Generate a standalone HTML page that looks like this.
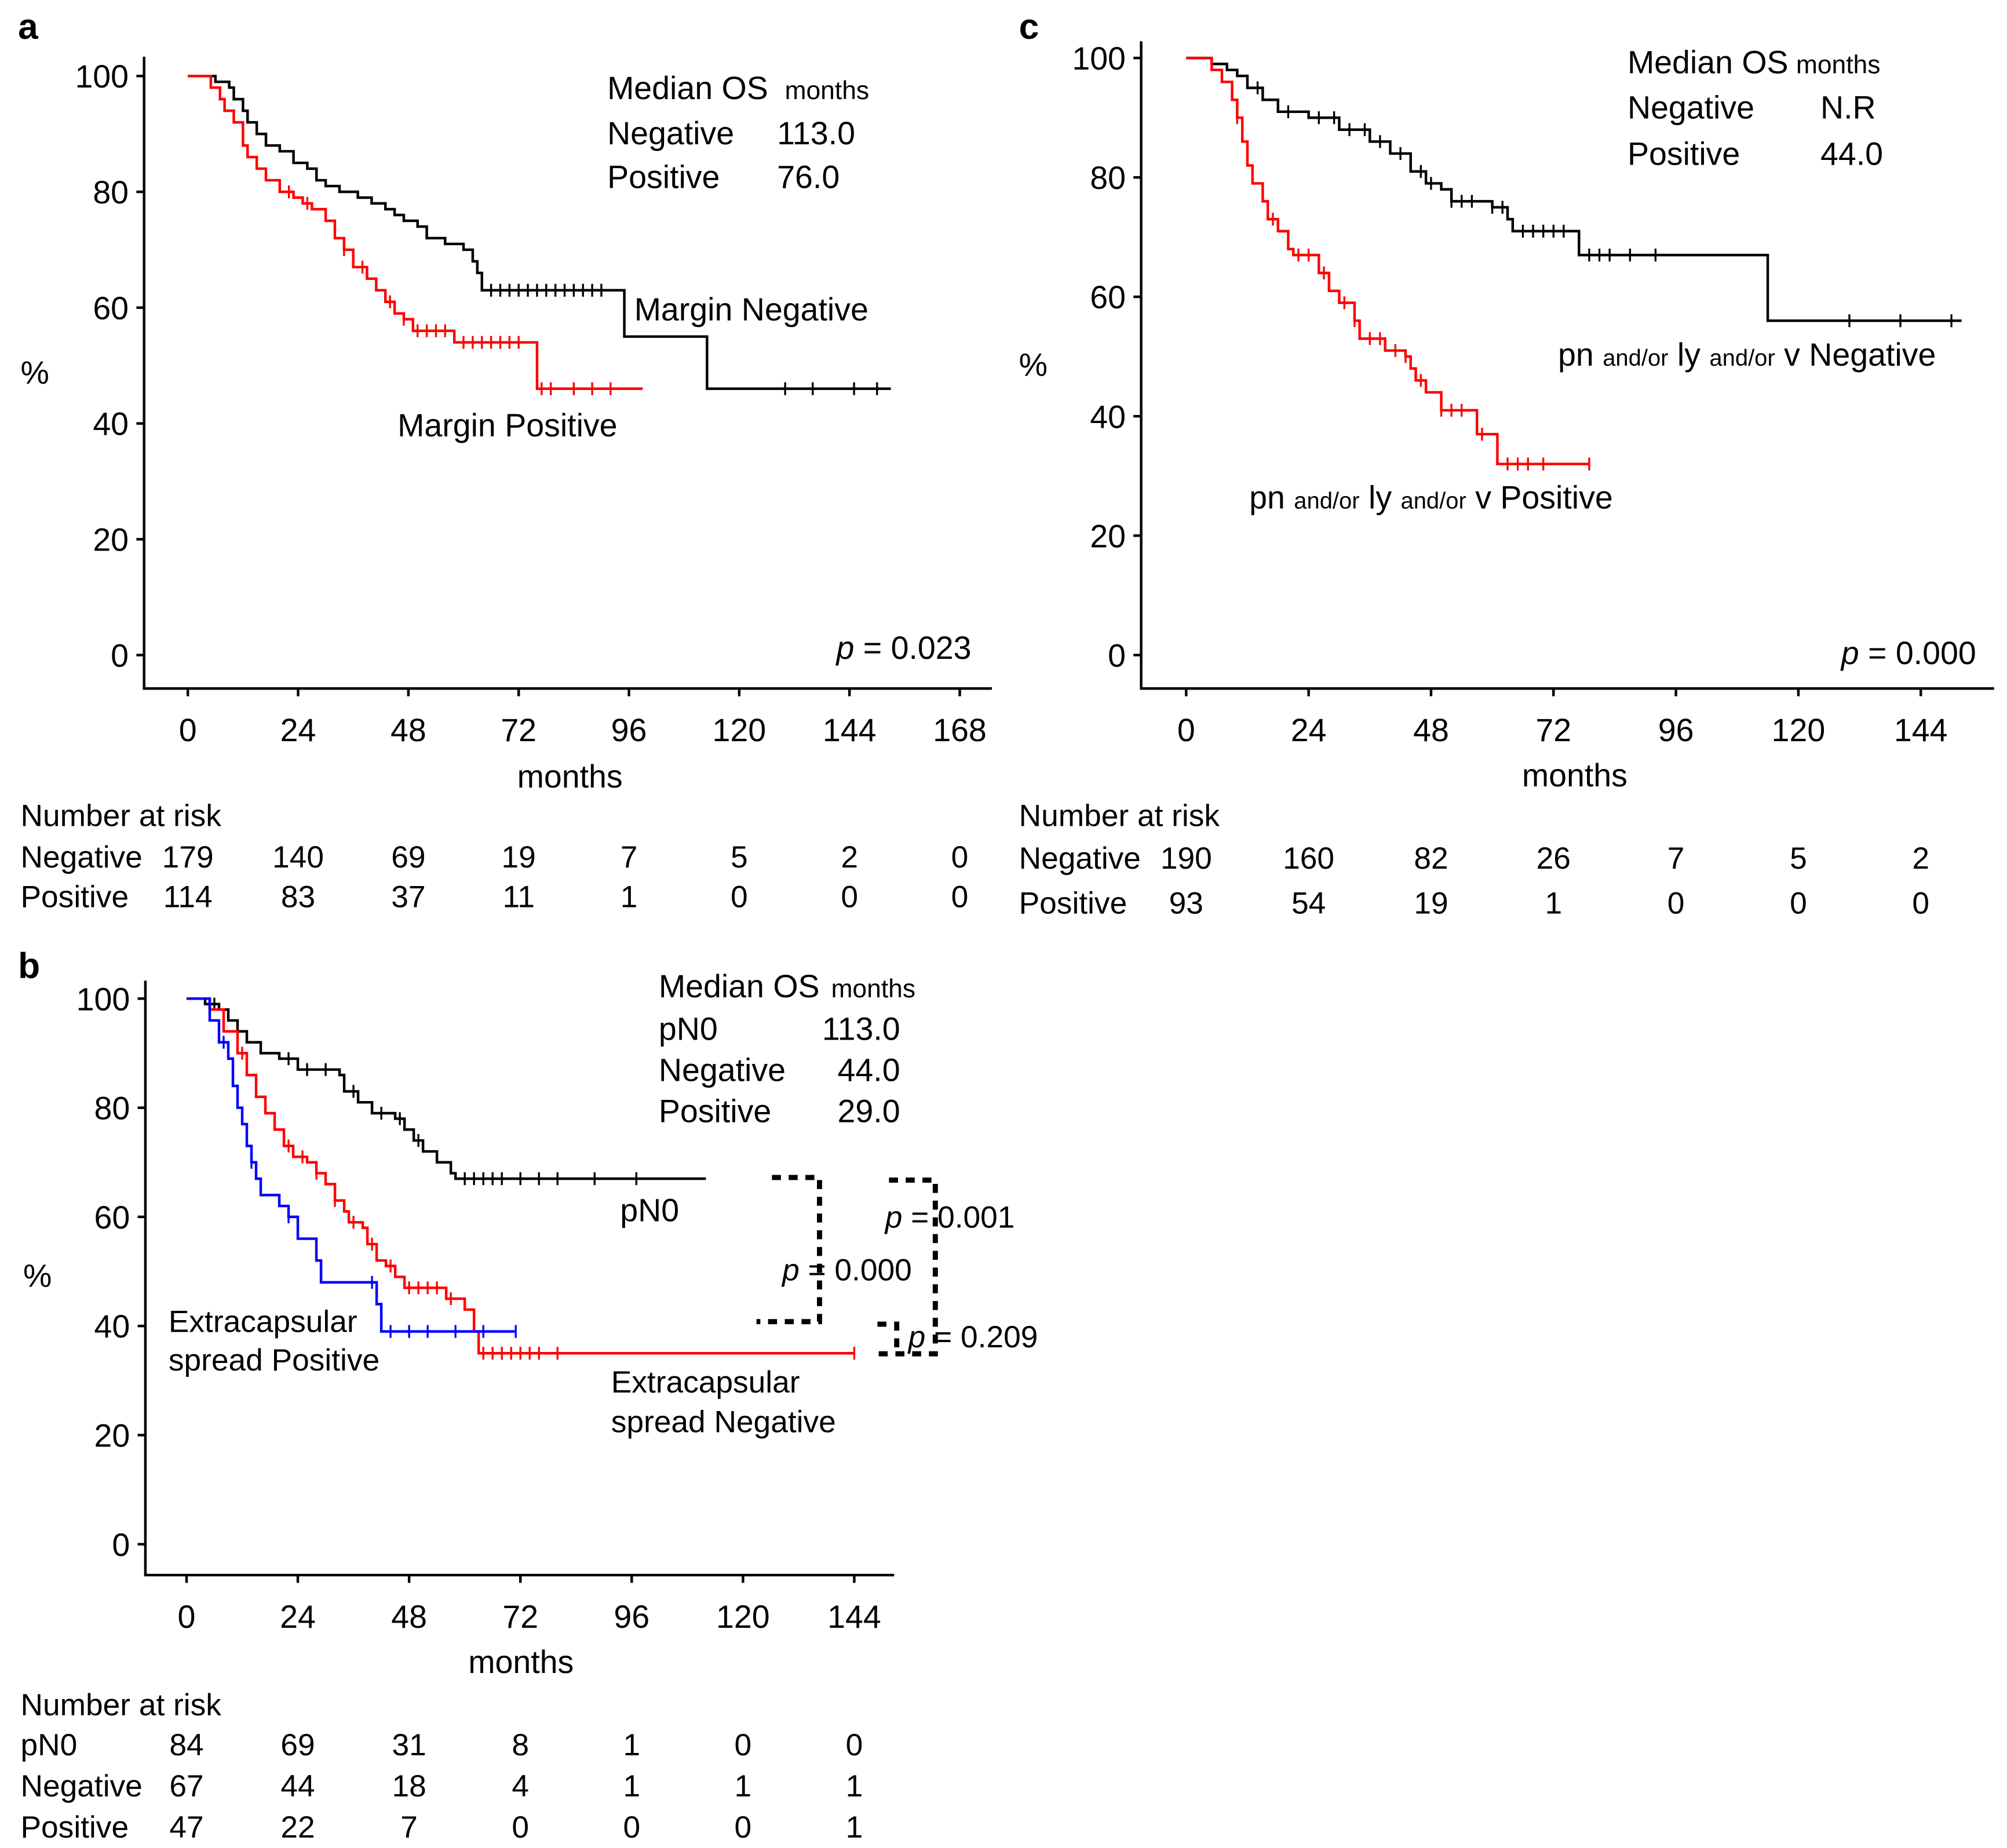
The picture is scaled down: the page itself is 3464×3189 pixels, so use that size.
<!DOCTYPE html>
<html><head><meta charset="utf-8"><style>
html,body{margin:0;padding:0;background:#fff}
svg{display:block}
text{font-family:"Liberation Sans",sans-serif;fill:#000}
</style></head><body>
<svg id="fig" width="3464" height="3189" viewBox="0 0 1560 1436" xmlns="http://www.w3.org/2000/svg">
<g id="root"></g>
</svg>
<script>
// ---------- Panel a data ----------
const aNegT=[0,6,9,10,12,13,15,17,20,23,26,28,30,33,37,40,43,45,47,50,52,56,60,62,63,64,95,113,153];
const aNegS=[100,99,98,96,94,92,90,88,87,85,84,82,81,80,79,78,77,76,75,74,72,71,70,68,66,63,55,46,46];
const aNegC=[66,68,70,72,74,76,78,80,82,84,86,88,90,130,136,145,150];
const aPosT=[0,5,7,8,10,12,13,15,17,20,23,25,27,30,32,34,36,39,41,43,45,47,49,58,76,99];
const aPosS=[100,98,96,94,92,88,86,84,82,80,79,78,77,75,72,70,67,65,63,61,59,58,56,54,46,46];
const aPosC=[22,26,34,38,44,47,50,52,54,56,60,62,64,66,68,70,72,77,79,84,88,92];
const aTicks=[0,24,48,72,96,120,144,168];
const aRiskNeg=[179,140,69,19,7,5,2,0];
const aRiskPos=[114,83,37,11,1,0,0,0];
// ---------- Panel c data ----------
const cNegT=[0,5,8,10,12,15,18,24,30,36,40,44,47,50,52,60,63,64,77,114,152];
const cNegS=[100,99,98,97,95,93,91,90,88,86,84,81,79,78,76,75,73,71,67,56,56];
const cNegC=[14,20,26,29,32,35,38,42,46,48,52,54,56,60,62,66,68,70,72,74,79,81,83,87,92,130,140,150];
const cPosT=[0,5,7,9,10,11,12,13,15,16,18,20,21,26,28,30,33,34,39,43,44,45,47,50,57,61,79];
const cPosS=[100,98,96,93,90,86,82,79,76,73,71,68,67,64,61,59,56,53,51,50,48,46,44,41,37,32,32];
const cPosC=[10,17,22,24,27,31,33,36,38,41,43,46,50,52,54,58,63,65,67,70,79];
const cTicks=[0,24,48,72,96,120,144];
const cRiskNeg=[190,160,82,26,7,5,2];
const cRiskPos=[93,54,19,1,0,0,0];
// ---------- Panel b data ----------
const bN0T=[0,4,7,9,11,13,16,20,24,33,34,37,40,45,47,49,51,54,57,58,112];
const bN0S=[100,99,98,96,94,92,90,89,87,86,83,81,79,78,76,74,72,70,68,67,67];
const bN0C=[6,22,26,30,36,42,46,50,60,62,64,66,68,72,76,80,88,97];
const bNegT=[0,5,8,11,13,15,17,19,21,23,26,28,30,32,34,35,38,39,41,43,45,47,56,60,62,63,144];
const bNegS=[100,98,94,90,86,82,79,76,73,71,70,68,66,63,61,59,58,55,52,51,49,47,45,43,39,35,35];
const bNegC=[12,22,25,28,32,36,40,44,48,50,52,54,57,64,66,68,70,72,74,76,80,144];
const bPosT=[0,5,7,9,10,11,12,13,14,15,16,20,22,24,28,29,41,42,71];
const bPosS=[100,96,92,89,84,80,77,73,70,67,64,62,60,56,52,48,44,39,39];
const bPosC=[8,14,22,40,44,48,52,58,64,71];
const bTicks=[0,24,48,72,96,120,144];
const bRiskN0=[84,69,31,8,1,0,0];
const bRiskNeg=[67,44,18,4,1,1,1];
const bRiskPos=[47,22,7,0,0,0,1];
const yTicks=[0,20,40,60,80,100];

const NS="http://www.w3.org/2000/svg";
const root=document.getElementById('root');
function mk(tag,attrs,parent,text){const e=document.createElementNS(NS,tag);for(const k in attrs)e.setAttribute(k,attrs[k]);if(text!==undefined)e.textContent=text;(parent||root).appendChild(e);return e;}
function txt(x,y,s,size,name,anchor,extra){const t=mk('text',Object.assign({x:x,y:y,'font-size':size,'text-anchor':anchor||'start'},extra||{}),root,s);


return t;}

function panel(cfg){
 const g=mk('g',{});
 
 
 const X=v=>cfg.x0+v*cfg.kx, Y=v=>cfg.y0-v*cfg.ky;
 const ax=mk('path',{d:`M${cfg.axX},${cfg.axTop} V${cfg.axY} H${cfg.axRight}`,stroke:'#000','stroke-width':2,fill:'none'},g);
 
 
 yTicks.forEach(v=>{
  const tk=mk('line',{x1:cfg.axX-6,x2:cfg.axX,y1:Y(v),y2:Y(v),stroke:'#000','stroke-width':2},g);
  
  
  txt(cfg.axX-12,Y(v)+9,String(v),25,'y-tick-label','end');
 });
 cfg.ticks.forEach(v=>{
  const tk=mk('line',{x1:X(v),x2:X(v),y1:cfg.axY,y2:cfg.axY+6,stroke:'#000','stroke-width':2},g);
  
  
  txt(X(v),cfg.axY+41,String(v),25,'x-tick-label','middle');
 });
 cfg.series.forEach(s=>{
  let d=`M${X(s.t[0])},${Y(s.s[0])}`;
  for(let i=1;i<s.t.length;i++){d+=` H${X(s.t[i])} V${Y(s.s[i])}`;}
  const p=mk('path',{d:d,stroke:s.color,'stroke-width':2,fill:'none'},g);
  
  
  s.c.forEach(ct=>{
   let sv=s.s[0];for(let i=0;i<s.t.length;i++){if(s.t[i]<=ct)sv=s.s[i];}
   const m=mk('line',{x1:X(ct),x2:X(ct),y1:Y(sv)-5,y2:Y(sv)+5,stroke:s.color,'stroke-width':1.5},g);
   
   
  });
 });
 cfg.risk.forEach((row,ri)=>{
  txt(cfg.riskLabelX,cfg.riskY+ri*cfg.riskDy,row.label,24,'risk-row-label');
  row.vals.forEach((v,i)=>txt(X(cfg.ticks[i]),cfg.riskY+ri*cfg.riskDy,String(v),24,'risk-value','middle'));
 });
}

panel({name:'panel-a',x0:146,kx:600/168,y0:509,ky:4.5,axX:112,axTop:44,axY:535,axRight:771,ticks:aTicks,
 series:[{name:'margin-negative-curve',t:aNegT,s:aNegS,c:aNegC,color:'#000'},{name:'margin-positive-curve',t:aPosT,s:aPosS,c:aPosC,color:'#ff0000'}],
 riskLabelX:16,riskY:674,riskDy:31,risk:[{label:'Negative',vals:aRiskNeg},{label:'Positive',vals:aRiskPos}]});
panel({name:'panel-c',x0:922,kx:571/144,y0:509,ky:4.64,axX:887,axTop:32,axY:535,axRight:1550,ticks:cTicks,
 series:[{name:'negative-curve',t:cNegT,s:cNegS,c:cNegC,color:'#000'},{name:'positive-curve',t:cPosT,s:cPosS,c:cPosC,color:'#ff0000'}],
 riskLabelX:792,riskY:675,riskDy:35,risk:[{label:'Negative',vals:cRiskNeg},{label:'Positive',vals:cRiskPos}]});
panel({name:'panel-b',x0:145,kx:519/144,y0:1200,ky:4.24,axX:113,axTop:762,axY:1224,axRight:695,ticks:bTicks,
 series:[{name:'pn0-curve',t:bN0T,s:bN0S,c:bN0C,color:'#000'},{name:'ecs-negative-curve',t:bNegT,s:bNegS,c:bNegC,color:'#ff0000'},{name:'ecs-positive-curve',t:bPosT,s:bPosS,c:bPosC,color:'#0000ff'}],
 riskLabelX:16,riskY:1364,riskDy:32,risk:[{label:'pN0',vals:bRiskN0},{label:'Negative',vals:bRiskNeg},{label:'Positive',vals:bRiskPos}]});

// Panel labels and annotations
txt(14,30,'a',28,'panel-a-label','start',{'font-weight':'bold'});
txt(792,30,'c',28,'panel-c-label','start',{'font-weight':'bold'});
txt(14,760,'b',28,'panel-b-label','start',{'font-weight':'bold'});
txt(16,298,'%',25,'y-axis-title-a');
txt(792,292,'%',25,'y-axis-title-c');
txt(18,1000,'%',25,'y-axis-title-b');
txt(443,612,'months',25,'x-axis-title-a','middle');
txt(1224,611,'months',25,'x-axis-title-c','middle');
txt(405,1300,'months',25,'x-axis-title-b','middle');
txt(16,642,'Number at risk',24,'risk-title-a');
txt(792,642,'Number at risk',24,'risk-title-c');
txt(16,1333,'Number at risk',24,'risk-title-b');
// a
txt(472,77,'Median OS',25,'median-title-a');
txt(610,77,'months',20,'median-unit-a');
txt(472,112,'Negative',25,'median-neg-label-a');txt(604,112,'113.0',25,'median-neg-a');
txt(472,146,'Positive',25,'median-pos-label-a');txt(604,146,'76.0',25,'median-pos-a');
txt(493,249,'Margin Negative',25,'label-margin-negative');
txt(309,339,'Margin Positive',25,'label-margin-positive');
txt(755,512,'',25,'p-a','end');
const pa=txt(755,512,'',25,'p-value-a','end');pa.innerHTML='<tspan font-style="italic">p</tspan> = 0.023';
// c
txt(1265,57,'Median OS',25,'median-title-c');
txt(1396,57,'months',20,'median-unit-c');
txt(1265,92,'Negative',25,'median-neg-label-c');txt(1415,92,'N.R',25,'median-neg-c');
txt(1265,128,'Positive',25,'median-pos-label-c');txt(1415,128,'44.0',25,'median-pos-c');
const cl1=txt(1211,284,'',25,'label-c-negative');cl1.innerHTML='pn <tspan font-size="18">and/or</tspan> ly <tspan font-size="18">and/or</tspan> v Negative';
const cl2=txt(971,395,'',25,'label-c-positive');cl2.innerHTML='pn <tspan font-size="18">and/or</tspan> ly <tspan font-size="18">and/or</tspan> v Positive';
const pc=txt(1536,516,'',25,'p-value-c','end');pc.innerHTML='<tspan font-style="italic">p</tspan> = 0.000';
// b
txt(512,775,'Median OS',25,'median-title-b');txt(646,775,'months',20,'median-unit-b');
txt(512,808,'pN0',25,'median-pn0-label');txt(639,808,'113.0',25,'median-pn0');
txt(512,840,'Negative',25,'median-neg-label-b');txt(651,840,'44.0',25,'median-neg-b');
txt(512,872,'Positive',25,'median-pos-label-b');txt(651,872,'29.0',25,'median-pos-b');
txt(482,949,'pN0',25,'label-pn0');
txt(131,1035,'Extracapsular',24,'label-ecs-pos-1');txt(131,1065,'spread Positive',24,'label-ecs-pos-2');
txt(475,1082,'Extracapsular',24,'label-ecs-neg-1');txt(475,1113,'spread Negative',24,'label-ecs-neg-2');
const br=mk('path',{d:'M600,915 H637 V1027 H588 M691,917 H727 V1052 H678 M682,1029 H697 V1052',stroke:'#000','stroke-width':4,fill:'none','stroke-dasharray':'7,6'});


const p1=txt(688,954,'',24,'p-value-pn0-vs-pos');p1.innerHTML='<tspan font-style="italic">p</tspan> = 0.001';
const p2=txt(608,995,'',24,'p-value-pn0-vs-neg');p2.innerHTML='<tspan font-style="italic">p</tspan> = 0.000';
const p3=txt(706,1047,'',24,'p-value-neg-vs-pos');p3.innerHTML='<tspan font-style="italic">p</tspan> = 0.209';
</script>
</body></html>
